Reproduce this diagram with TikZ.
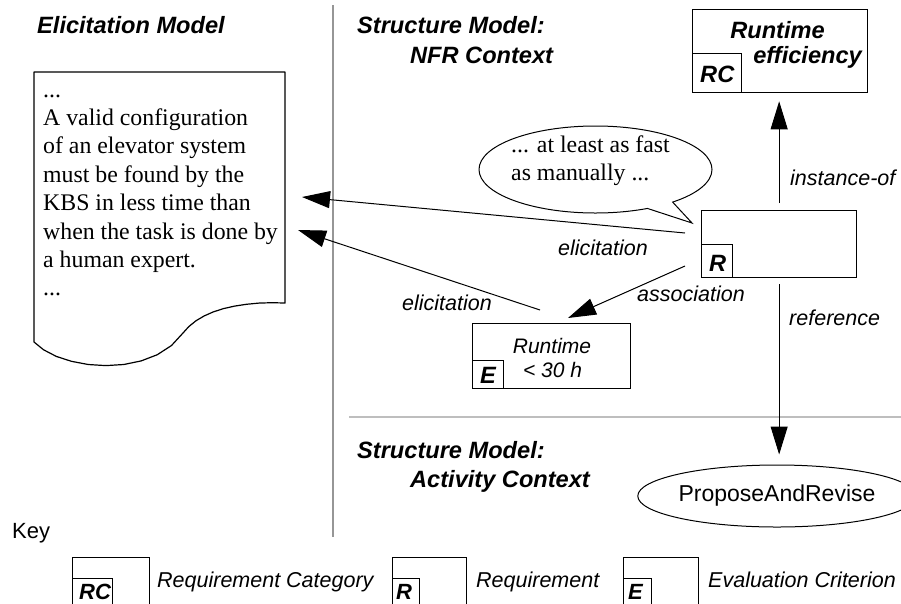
\documentclass[tikz,border=0pt]{standalone}
\usepackage{fontspec}
\setmainfont{Liberation Serif}
\setsansfont{Liberation Sans}
\usetikzlibrary{arrows.meta,shapes.geometric,shapes.callouts}
\definecolor{sepdark}{RGB}{150,150,150}
\definecolor{seplight}{RGB}{190,190,190}
\tikzset{
  heading/.style={font=\sffamily\bfseries\itshape\fontsize{23.6}{28}\selectfont, inner sep=0pt, anchor=base west},
  tagtxt/.style={font=\sffamily\bfseries\itshape\fontsize{23.6}{28}\selectfont, inner sep=0pt, anchor=base west},
  lbl/.style={font=\sffamily\itshape\fontsize{21.5}{26}\selectfont, inner sep=0pt, anchor=base west},
  boxlbl/.style={font=\sffamily\itshape\fontsize{21}{25}\selectfont, inner sep=0pt, anchor=base},
  serifbody/.style={font=\fontsize{23.8}{28.4}\selectfont, inner sep=0pt, anchor=north west, align=left},
  bigbox/.style={draw, line width=1.3pt, inner sep=0pt, anchor=north west},
  tagbox/.style={draw, line width=1.3pt, inner sep=0pt, anchor=south west},
  arr/.style={line width=1pt, -{Triangle[length=28pt,width=17pt]}},
  docline/.style={line width=1.2pt, line join=round, line cap=round}
}
\begin{document}
\begin{tikzpicture}[x=1pt,y=-1pt]
\useasboundingbox (0,0) rectangle (901,603);

% separators
\draw[sepdark, line width=2pt] (333,5) -- (333,537);
\draw[seplight, line width=1.5pt] (349,417) -- (901,417);

% headings
\node[heading] (hElic) at (37,33) {Elicitation Model};
\node[heading] (hNfr1) at (357,33) {Structure Model:};
\node[heading] (hNfr2) at (410,63) {NFR Context};
\node[heading] (hAct1) at (357,458) {Structure Model:};
\node[heading] (hAct2) at (410,487) {Activity Context};

% document outline with wavy bottom
\draw[docline] (285,303) -- (285,72) -- (34,72) -- (34,342)
  -- (43.6,349.8) -- (56.3,356.4) -- (71.4,361.3) -- (88.2,364.5) -- (105.9,365.6)
  -- (123.8,364.5) -- (141.2,360.9) -- (157.3,354.7) -- (171.5,345.5) -- (183,333)
  -- (188.8,326.6) -- (195.8,320.9) -- (204.0,316.0) -- (213.3,311.9) -- (223.5,308.6)
  -- (234.6,306.1) -- (246.3,304.3) -- (258.7,303.1) -- (271.7,302.7) -- cycle;
\node[serifbody] (doc) at (43,77.1) {\strut...\\A valid configuration\\of an elevator system\\must be found by the\\KBS in less time than\\when the task is done by\\a human expert.\\...};

% speech bubble
\node[ellipse callout, draw, line width=1pt, minimum width=233pt, minimum height=87pt, inner sep=0pt,
      callout absolute pointer={(692,223)}, callout pointer arc=15] (bubble) at (595.5,169.5) {};
\node[font=\fontsize{23.8}{28}\selectfont, inner sep=0pt, anchor=north west, align=left] (bubbletxt)
  at (511,132.4) {\strut... at least as fast\\as manually ...};

% Runtime efficiency (RC)
\node[bigbox, minimum width=175pt, minimum height=83pt] (rc) at (692,9) {};
\node[tagbox, minimum width=49pt, minimum height=39pt] (rcin) at (rc.south west) {};
\node[heading, anchor=base] (rct1) at (777.5,38) {Runtime};
\node[heading, anchor=base east] (rct2) at (862,63) {efficiency};
\node[tagtxt] (rctag) at (700,82) {RC};

% Requirement (R)
\node[bigbox, minimum width=155pt, minimum height=67pt] (r) at (701,210) {};
\node[tagbox, minimum width=31pt, minimum height=33pt] (rin) at (r.south west) {};
\node[tagtxt] (rtag) at (709,271) {R};

% Evaluation criterion (E)
\node[bigbox, minimum width=158pt, minimum height=65pt] (e) at (472,323) {};
\node[tagbox, minimum width=31pt, minimum height=28pt] (ein) at (e.south west) {};
\node[tagtxt] (etag) at (480,383) {E};
\node[boxlbl] (et1) at (552,353) {Runtime};
\node[boxlbl] (et2) at (552.5,377) {< 30 h};

% ProposeAndRevise
\node[draw, ellipse, line width=1pt, minimum width=236pt, minimum height=62pt, inner sep=0pt,
      font=\sffamily\fontsize{23}{27}\selectfont] (par) at (777,496) {ProposeAndRevise};

% connectors
\coordinate (e1s) at (685,233);
\coordinate (e1t) at (302,197);
\coordinate (e2s) at (540,310);
\coordinate (e2t) at (298,230);
\coordinate (as) at (685,266);
\coordinate (at) at (568,318);
\draw[arr, shorten <=7pt, shorten >=8pt] (r.north) -- (r.north |- rc.south);
\draw[arr, shorten <=6pt, shorten >=10pt] (r.south) -- (r.south |- par.north);
\draw[arr] (e1s) -- (e1t);
\draw[arr] (e2s) -- (e2t);
\draw[arr] (as) -- (at);

% connector labels
\node[lbl] (linst) at (790,185) {instance-of};
\node[lbl] (lel1) at (558,255) {elicitation};
\node[lbl] (lel2) at (402,310) {elicitation};
\node[lbl] (lass) at (637,301) {association};
\node[lbl] (lref) at (789,325) {reference};

% key
\node[font=\sffamily\fontsize{22}{26}\selectfont, inner sep=0pt, anchor=base west] (key) at (12,538) {Key};
\node[bigbox, minimum width=77pt, minimum height=47pt] (k1) at (72,557) {};
\node[tagbox, minimum width=40pt, minimum height=26pt] (k1in) at (k1.south west) {};
\node[tagtxt, font=\sffamily\bfseries\itshape\fontsize{22}{26}\selectfont] (k1tag) at (79,599) {RC};
\node[lbl] (k1txt) at (157,587) {Requirement Category};
\node[bigbox, minimum width=74pt, minimum height=47pt] (k2) at (392,557) {};
\node[tagbox, minimum width=27pt, minimum height=26pt] (k2in) at (k2.south west) {};
\node[tagtxt, font=\sffamily\bfseries\itshape\fontsize{22}{26}\selectfont] (k2tag) at (396,599) {R};
\node[lbl] (k2txt) at (476,587) {Requirement};
\node[bigbox, minimum width=75pt, minimum height=47pt] (k3) at (623,557) {};
\node[tagbox, minimum width=28pt, minimum height=26pt] (k3in) at (k3.south west) {};
\node[tagtxt, font=\sffamily\bfseries\itshape\fontsize{22}{26}\selectfont] (k3tag) at (628,599) {E};
\node[lbl] (k3txt) at (708,587) {Evaluation Criterion};
\end{tikzpicture}
\end{document}
